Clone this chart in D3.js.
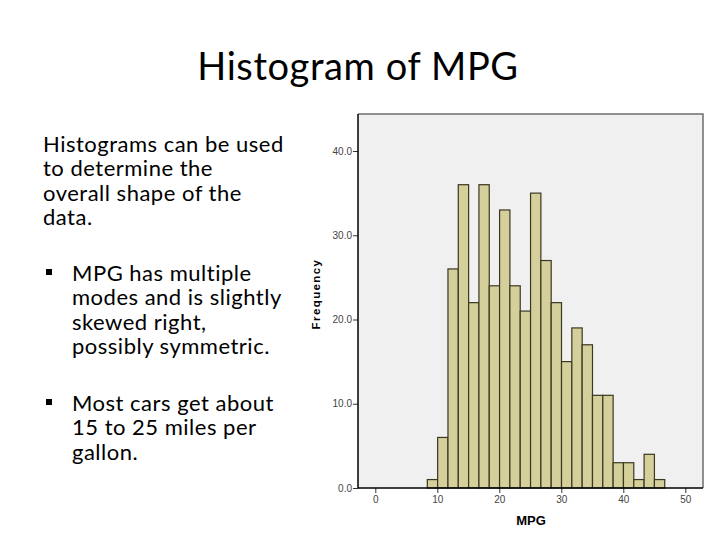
<!DOCTYPE html>
<html>
<head>
<meta charset="utf-8">
<script src="https://cdn.jsdelivr.net/npm/d3@7"></script>
<style>
  body { margin: 0; background: #fff; }
</style>
</head>
<body>
<div id="slide"></div>
<script>
// Histogram data (MPG bins, 398 cars)
var binStart = 8.39;
var binWidth = 1.665;
var counts = [1, 6, 26, 36, 22, 36, 24, 33, 24, 21, 35, 27, 22, 15, 19, 17, 11, 11, 3, 3, 1, 4, 1];
var xTicks = [0, 10, 20, 30, 40, 50];
var yTicks = [0, 10, 20, 30, 40];

var introLines = ["Histograms can be used", "to determine the", "overall shape of the", "data."];
var bullets = [
  ["MPG has multiple", "modes and is slightly", "skewed right,", "possibly symmetric."],
  ["Most cars get about", "15 to 25 miles per", "gallon."]
];

var svg = d3.select("#slide").append("svg")
  .attr("width", 720)
  .attr("height", 540);

var slideFont = "Lato, 'Open Sans', sans-serif";
var chartFont = "Arial, 'Liberation Sans', sans-serif";

// Title
svg.append("text")
  .attr("x", 358).attr("y", 80)
  .attr("text-anchor", "middle")
  .style("font-family", slideFont)
  .style("font-size", "38px")
  .style("letter-spacing", "0.6px")
  .attr("fill", "#000")
  .text("Histogram of MPG");

// Left text block
var lineGap = 24.4;
svg.append("g").selectAll("text")
  .data(introLines)
  .enter().append("text")
  .attr("x", 43)
  .attr("y", (d, i) => 152 + i * lineGap)
  .style("font-family", slideFont)
  .style("font-size", "22px")
  .style("letter-spacing", "0.5px")
  .text(d => d);

var bulletTop = [281, 411];
bullets.forEach(function(lines, b) {
  svg.append("rect")
    .attr("x", 46).attr("y", bulletTop[b] - 12)
    .attr("width", 6).attr("height", 6)
    .attr("fill", "#000");
  svg.append("g").selectAll("text")
    .data(lines)
    .enter().append("text")
    .attr("x", 72)
    .attr("y", (d, i) => bulletTop[b] + i * lineGap)
    .style("font-family", slideFont)
    .style("font-size", "22px")
    .style("letter-spacing", "0.5px")
    .text(d => d);
});

// Chart area
var plot = { left: 358, top: 114, right: 703, bottom: 488 };

var x = d3.scaleLinear()
  .domain([0, 50])
  .range([375.3, 685.3]);

var y = d3.scaleLinear()
  .domain([0, 40])
  .range([plot.bottom, 151]);

svg.append("rect")
  .attr("x", plot.left).attr("y", plot.top)
  .attr("width", plot.right - plot.left)
  .attr("height", plot.bottom - plot.top)
  .attr("fill", "#f0f0f0");

// frame top and right
svg.append("path")
  .attr("d", `M${plot.left},${plot.top}H${plot.right}V${plot.bottom}`)
  .attr("fill", "none")
  .attr("stroke", "#6e6e6e")
  .attr("stroke-width", 1.5);

// bars
svg.append("g").selectAll("rect")
  .data(counts)
  .enter().append("rect")
  .attr("x", (d, i) => x(binStart + i * binWidth))
  .attr("y", d => y(d))
  .attr("width", (d, i) => x(binStart + (i + 1) * binWidth) - x(binStart + i * binWidth))
  .attr("height", d => y(0) - y(d))
  .attr("fill", "#d4cf9b")
  .attr("stroke", "#3a3820")
  .attr("stroke-width", 1.2);

// axes
var xAxis = svg.append("g")
  .attr("transform", `translate(0, ${plot.bottom})`)
  .call(d3.axisBottom(x).tickValues(xTicks).tickSize(5).tickSizeOuter(0).tickFormat(d3.format("d")));
xAxis.select(".domain").remove();
xAxis.append("line")
  .attr("x1", plot.left).attr("x2", plot.right)
  .attr("stroke", "#000").attr("stroke-width", 1.5);

var yAxis = svg.append("g")
  .attr("transform", `translate(${plot.left}, 0)`)
  .call(d3.axisLeft(y).tickValues(yTicks).tickSize(5).tickSizeOuter(0).tickFormat(d3.format(".1f")));
yAxis.select(".domain").remove();
yAxis.append("line")
  .attr("y1", plot.top).attr("y2", plot.bottom)
  .attr("stroke", "#000").attr("stroke-width", 1.5);

svg.selectAll(".tick text")
  .style("font-family", chartFont)
  .style("font-size", "10px")
  .attr("fill", "#444");
xAxis.selectAll(".tick text").attr("y", 8).attr("dy", "0.71em");
yAxis.selectAll(".tick text").attr("x", -6);
svg.selectAll(".tick line").attr("stroke", "#333");

// axis titles
svg.append("text")
  .attr("x", 531).attr("y", 525)
  .attr("text-anchor", "middle")
  .style("font-family", chartFont)
  .style("font-size", "13px")
  .style("font-weight", "bold")
  .text("MPG");

svg.append("text")
  .attr("transform", "translate(320, 294) rotate(-90)")
  .attr("text-anchor", "middle")
  .style("font-family", chartFont)
  .style("font-size", "11.5px")
  .style("font-weight", "bold")
  .style("letter-spacing", "1.4px")
  .text("Frequency");
</script>
</body>
</html>
